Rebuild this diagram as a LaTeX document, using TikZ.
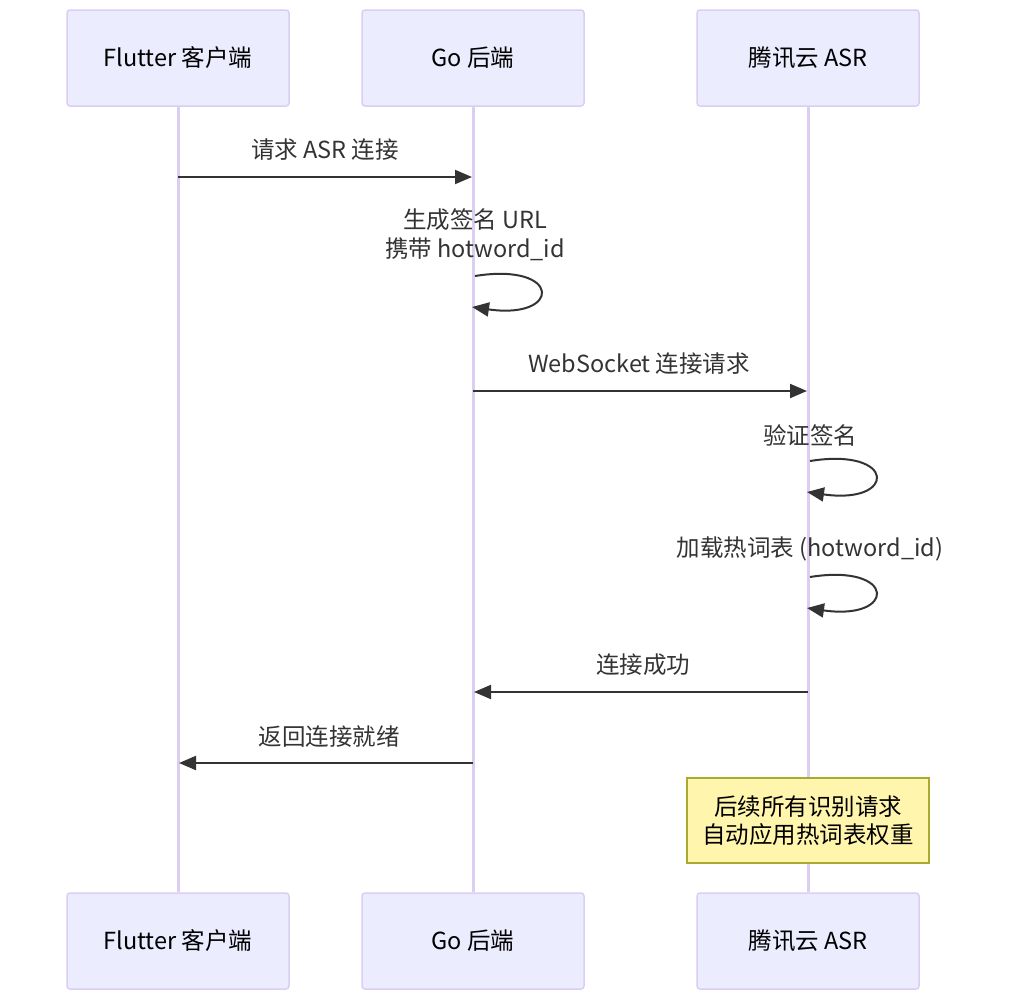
\documentclass[tikz,border=0pt]{standalone}
\usepackage{fontspec}
\setmainfont{Noto Sans CJK SC}
\usetikzlibrary{arrows.meta}
\definecolor{actfill}{HTML}{ECECFF}
\definecolor{actline}{HTML}{DACEF2}
\definecolor{msg}{HTML}{333333}
\definecolor{notefill}{HTML}{FFF5AD}
\definecolor{noteline}{HTML}{AAAA33}
\tikzset{
  actor/.style={draw=actline, fill=actfill, line width=1.5pt, rounded corners=3pt,
    minimum width=222pt, minimum height=96pt, inner sep=0pt, text=black,
    font=\fontsize{23.5}{28}\selectfont},
  life/.style={draw=actline, line width=3pt},
  msgline/.style={draw=msg, line width=2pt, -{Triangle[length=17pt,width=14pt]}},
  msglabel/.style={text=msg, font=\fontsize{23.5}{29}\selectfont, align=center, inner sep=0pt},
  notebox/.style={draw=noteline, fill=notefill, line width=1.5pt, minimum width=242pt,
    minimum height=85pt, inner sep=0pt, align=center, text=black,
    font=\fontsize{23.5}{28}\selectfont},
}
\begin{document}
\begin{tikzpicture}[x=1pt,y=-1pt]
\useasboundingbox (0,0) rectangle (1011,999);
% actors
\node[actor] (a1t) at (178,58) {Flutter 客户端};
\node[actor] (a2t) at (473,58) {Go 后端};
\node[actor] (a3t) at (808,58) {腾讯云 ASR};
\node[actor] (a1b) at (178,941) {Flutter 客户端};
\node[actor] (a2b) at (473,941) {Go 后端};
\node[actor] (a3b) at (808,941) {腾讯云 ASR};
% lifelines
\draw[life] (a1t.south) -- (a1b.north);
\draw[life] (a2t.south) -- (a2b.north);
\draw[life] (a3t.south) -- (a3b.north);
% note (drawn over lifeline)
\node[notebox] (note) at (808,820.5) {后续所有识别请求\\自动应用热词表权重};
% message 1
\coordinate (m1s) at (178,177);
\coordinate (m1e) at (472,177);
\draw[msgline] (m1s) -- (m1e);
\node[msglabel] (l1) at (325,150) {请求 ASR 连接};
% message 2 self loop
\coordinate (m2s) at (475,276);
\coordinate (m2e) at (472,307);
\draw[msgline] (m2s) .. controls (562,262) and (562,320) .. (m2e);
\node[msglabel] (l2) at (475,235) {生成签名 URL\\携带 hotword\_id};
% message 3
\coordinate (m3s) at (473,391);
\coordinate (m3e) at (807,391);
\draw[msgline] (m3s) -- (m3e);
\node[msglabel] (l3) at (639,364) {WebSocket 连接请求};
% message 4 self loop
\coordinate (m4s) at (810,461);
\coordinate (m4e) at (807,492);
\draw[msgline] (m4s) .. controls (897,447) and (897,505) .. (m4e);
\node[msglabel] (l4) at (810,435) {验证签名};
% message 5 self loop
\coordinate (m5s) at (810,577);
\coordinate (m5e) at (807,608);
\draw[msgline] (m5s) .. controls (897,563) and (897,621) .. (m5e);
\node[msglabel] (l5) at (810,549) {加载热词表 (hotword\_id)};
% message 6
\coordinate (m6s) at (808,692);
\coordinate (m6e) at (474,692);
\draw[msgline] (m6s) -- (m6e);
\node[msglabel] (l6) at (643,665) {连接成功};
% message 7
\coordinate (m7s) at (473,763);
\coordinate (m7e) at (179,763);
\draw[msgline] (m7s) -- (m7e);
\node[msglabel] (l7) at (329,737) {返回连接就绪};
\end{tikzpicture}
\end{document}
